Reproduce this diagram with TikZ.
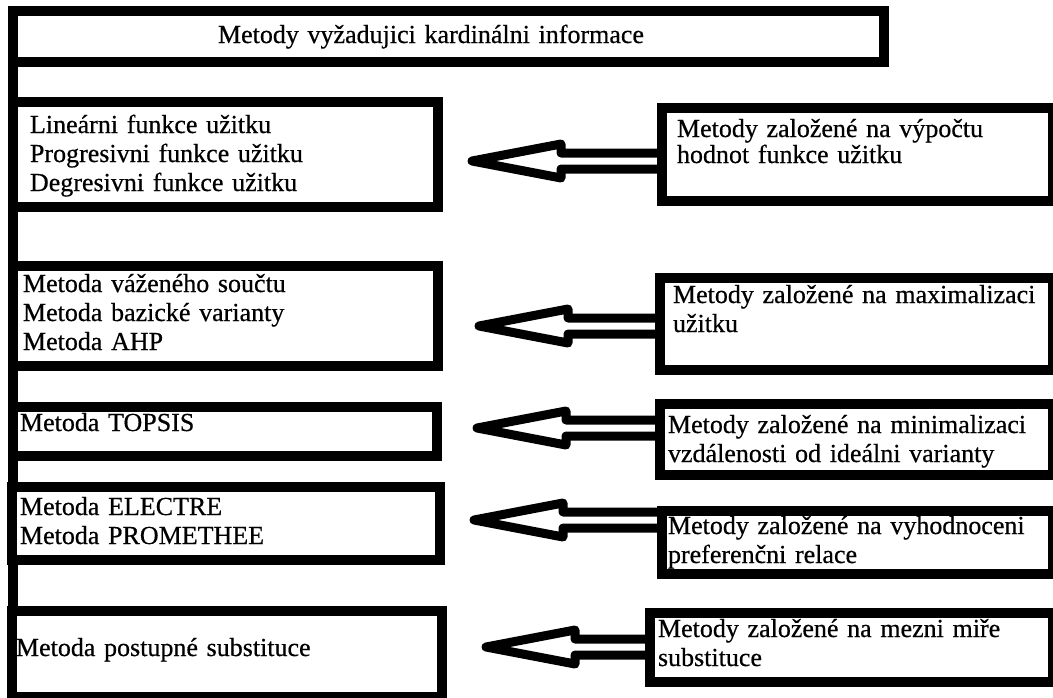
\documentclass[tikz,border=0pt]{standalone}
\usepackage{fontspec}
\setmainfont{Liberation Serif}
\newfontfamily\boxfam{Liberation Serif}[FakeBold=0.5]
\usetikzlibrary{calc}
\newcommand{\boxfont}{\boxfam\fontsize{26}{29}\selectfont}
\def\shafthalf{8}
\def\headhalf{17}
\def\headlen{89}

\tikzset{
  box/.style={draw, line width=10pt, fill=white, anchor=north west, outer sep=5pt,
    inner ysep=0pt, align=left, font=\boxfont},
  spine/.style={line width=10pt},
  hollow/.style={line width=9pt, line join=round},
}

\begin{document}
\begin{tikzpicture}[x=1pt, y=-1pt]
  \useasboundingbox[fill=white] (0,0) rectangle (1053,697);
  \clip (0,0) rectangle (1053,697);

  % heading
  \node[box, inner xsep=205pt, text width=461pt, text height=32pt, text depth=19pt]
    (top) at (8,6) {Metody vyžadujici kardinálni informace};

  \coordinate (spineend) at (13,705);
  \draw[spine] ([xshift=5pt]top.south west) -- (spineend);

  % methods
  \node[box, inner xsep=17pt, text width=391pt, text height=31pt, text depth=74pt]
    (l1) at (8,97) {Lineárni funkce užitku\\Progresivni funkce užitku\\Degresivni funkce užitku};
  \node[box, inner xsep=10pt, text width=405pt, text height=26pt, text depth=74pt]
    (l2) at (8,261) {Metoda váženého součtu\\Metoda bazické varianty\\Metoda AHP};
  \node[box, inner xsep=7pt, text width=410pt, text height=24pt, text depth=25pt]
    (l3) at (8,402) {Metoda TOPSIS};
  \node[box, inner xsep=8pt, text width=412pt, text height=28pt, text depth=45pt]
    (l4) at (7,482) {Metoda ELECTRE\\Metoda PROMETHEE};
  \node[box, inner xsep=4pt, text width=422pt, text height=45pt, text depth=41pt]
    (l5) at (7,606) {Metoda postupné substituce};

  % groups
  \node[box, inner xsep=15pt, text width=361pt, text height=29pt, text depth=64pt,
    font={\boxfam\fontsize{26}{26}\selectfont}]
    (r1) at (657,103) {Metody založené na výpočtu\\hodnot funkce užitku};
  \node[box, inner xsep=13pt, text width=367pt, text height=25pt, text depth=67pt]
    (r2) at (655,273) {Metody založené na maximalizaci\\užitku};
  \node[box, inner xsep=8pt, text width=377pt, text height=29pt, text depth=42pt]
    (r3) at (655,399) {Metody založené na minimalizaci\\vzdálenosti od ideálni varianty};
  \node[box, inner xsep=6pt, text width=379pt, text height=23pt, text depth=40pt]
    (r4) at (657,506) {Metody založené na vyhodnoceni\\preferenčni relace};
  \node[box, inner xsep=8pt, text width=387pt, text height=24pt, text depth=45pt]
    (r5) at (645,608) {Metody založené na mezni miře\\substituce};

  % arrows
  \coordinate (t1) at (472,161);
  \coordinate (t2) at (479,326);
  \coordinate (t3) at (477,428);
  \coordinate (t4) at (474,520);
  \coordinate (t5) at (486,647);

  \draw[hollow] ($(r1.west |- t1)+(4,-\shafthalf)$) -- ($(t1)+(\headlen,-\shafthalf)$)
    -- ($(t1)+(\headlen,-\headhalf)$) -- (t1) -- ($(t1)+(\headlen,\headhalf)$)
    -- ($(t1)+(\headlen,\shafthalf)$) -- ($(r1.west |- t1)+(4,\shafthalf)$);
  \draw[hollow] ($(r2.west |- t2)+(4,-\shafthalf)$) -- ($(t2)+(\headlen,-\shafthalf)$)
    -- ($(t2)+(\headlen,-\headhalf)$) -- (t2) -- ($(t2)+(\headlen,\headhalf)$)
    -- ($(t2)+(\headlen,\shafthalf)$) -- ($(r2.west |- t2)+(4,\shafthalf)$);
  \draw[hollow] ($(r3.west |- t3)+(4,-\shafthalf)$) -- ($(t3)+(\headlen,-\shafthalf)$)
    -- ($(t3)+(\headlen,-\headhalf)$) -- (t3) -- ($(t3)+(\headlen,\headhalf)$)
    -- ($(t3)+(\headlen,\shafthalf)$) -- ($(r3.west |- t3)+(4,\shafthalf)$);
  \draw[hollow] ($(r4.west |- t4)+(4,-\shafthalf)$) -- ($(t4)+(\headlen,-\shafthalf)$)
    -- ($(t4)+(\headlen,-\headhalf)$) -- (t4) -- ($(t4)+(\headlen,\headhalf)$)
    -- ($(t4)+(\headlen,\shafthalf)$) -- ($(r4.west |- t4)+(4,\shafthalf)$);
  \draw[hollow] ($(r5.west |- t5)+(4,-\shafthalf)$) -- ($(t5)+(\headlen,-\shafthalf)$)
    -- ($(t5)+(\headlen,-\headhalf)$) -- (t5) -- ($(t5)+(\headlen,\headhalf)$)
    -- ($(t5)+(\headlen,\shafthalf)$) -- ($(r5.west |- t5)+(4,\shafthalf)$);

\end{tikzpicture}
\end{document}
